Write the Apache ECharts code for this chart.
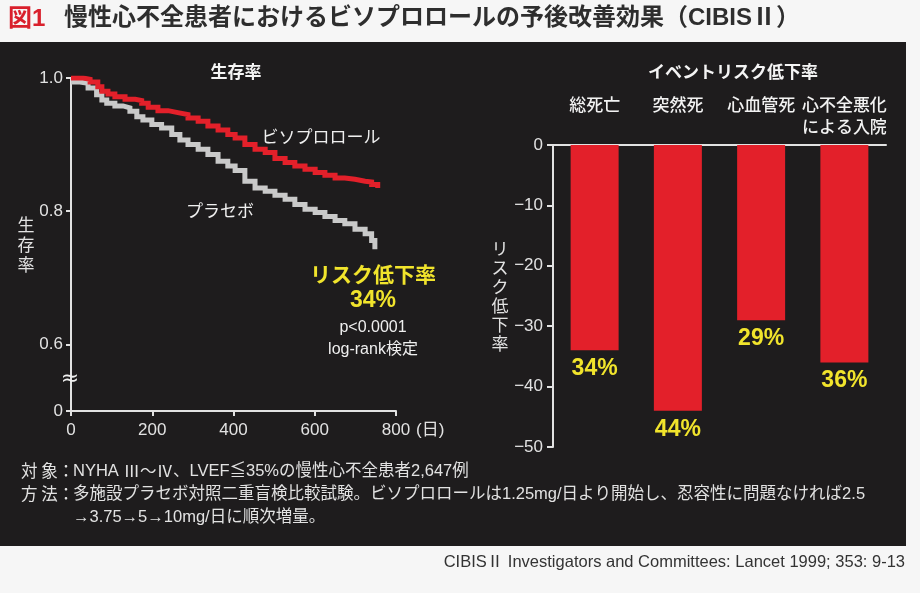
<!DOCTYPE html>
<html><head><meta charset="utf-8">
<script src="https://cdn.jsdelivr.net/npm/echarts@6/dist/echarts.min.js"></script>
<style>html,body{margin:0;padding:0;background:#f6f6f6}#c{width:920px;height:593px}</style>
</head><body><div id="c"></div>
<script>
// ---- data ----
const bisoDays = [0,22,30,47,66,76,91,108,133,158,174,190,214,239,263,288,313,337,362,386,404,428,453,478,502,527,551,576,601,625,650,674,699,724,740,755];
const bisoSurv = [1.0,1.0,0.998,0.994,0.987,0.980,0.976,0.972,0.968,0.966,0.962,0.956,0.951,0.948,0.945,0.940,0.935,0.928,0.922,0.915,0.910,0.900,0.893,0.888,0.879,0.873,0.868,0.863,0.858,0.854,0.850,0.848,0.845,0.844,0.840,0.835];
const placeboDays = [0,22,42,63,76,88,108,128,145,162,177,199,223,248,268,288,313,337,362,386,404,428,453,478,502,527,551,576,601,625,650,674,699,724,740,748];
const placeboSurv = [0.994,0.992,0.985,0.975,0.967,0.962,0.958,0.955,0.950,0.942,0.937,0.930,0.925,0.915,0.907,0.900,0.893,0.885,0.875,0.868,0.861,0.845,0.835,0.830,0.824,0.818,0.810,0.803,0.798,0.792,0.786,0.781,0.773,0.766,0.756,0.743];
const survTicks = [0.5,0.6,0.8,1.0];
const dayTicks = [0,200,400,600,800];
const eventCats = ['総死亡','突然死','心血管死','心不全悪化\nによる入院'];
const eventRiskChange = [-34,-44,-29,-36];
const riskTicks = [0,-10,-20,-30,-40,-50];

const JP = '"Liberation Sans","Noto Sans CJK JP",sans-serif';
const CJK = '"Noto Sans CJK JP",sans-serif';
const FG = '#e2e2e2';
const RED = '#e3202a';
const YEL = '#f1e42c';

const chart = echarts.init(document.getElementById('c'));
const zip = (a,b)=>a.map((v,i)=>[v,b[i]]);
const foot = {fill:FG, verticalAlign:'middle', font:'16.5px '+JP};

chart.setOption({
  backgroundColor:'#f6f6f6',
  animation:false,
  textStyle:{fontFamily:JP},
  grid:[
    {left:71, top:78, width:325, height:333},
    {left:553, top:145, right:34, bottom:146}
  ],
  xAxis:[
    {gridIndex:0, type:'value', min:0, max:800, interval:200,
     name:'(日)', nameLocation:'end', nameGap:16,
     nameTextStyle:{color:FG, fontSize:17, fontFamily:JP, verticalAlign:'top', align:'left', padding:[11,0,0,0]},
     axisLine:{lineStyle:{color:FG,width:2}},
     axisTick:{show:true,length:5,lineStyle:{color:FG,width:2}},
     axisLabel:{color:FG,fontSize:17,margin:11},
     splitLine:{show:false}},
    {gridIndex:1, type:'category', data:eventCats, position:'top',
     axisLine:{lineStyle:{color:FG,width:2}},
     axisTick:{show:false},
     axisLabel:{interval:0,color:'#f2f2f2',fontSize:17,margin:51,verticalAlign:'top',lineHeight:22,fontFamily:CJK,fontWeight:500}}
  ],
  yAxis:[
    {gridIndex:0, type:'value', min:0.5, max:1.0, interval:0.1,
     name:'生\n存\n率', nameLocation:'middle', nameRotate:0, nameGap:44,
     nameTextStyle:{color:FG,fontSize:17,lineHeight:20,align:'center',padding:[26,0,0,0],fontFamily:CJK},
     axisLine:{show:true,lineStyle:{color:FG,width:2}},
     axisTick:{show:true,length:5,customValues:survTicks,lineStyle:{color:FG,width:2}},
     axisLabel:{color:FG,fontSize:17,margin:8,customValues:survTicks,
       formatter:v=>Math.abs(v-0.5)<1e-6?'0':v.toFixed(1)},
     splitLine:{show:false}},
    {gridIndex:1, type:'value', min:-50, max:0, interval:10,
     name:'リ\nス\nク\n低\n下\n率', nameLocation:'middle', nameRotate:0, nameGap:53,
     nameTextStyle:{color:FG,fontSize:17,lineHeight:19,align:'center',fontFamily:CJK},
     axisLine:{show:true,lineStyle:{color:FG,width:2}},
     axisTick:{show:true,length:6,lineStyle:{color:FG,width:2}},
     axisLabel:{color:FG,fontSize:17,margin:10,formatter:v=>v<0?'−'+Math.abs(v):String(v)},
     splitLine:{show:false}}
  ],
  graphic:[
    {type:'rect', z:-100, shape:{x:0,y:42,width:906,height:504}, style:{fill:'#1e1c1d'}},
    {type:'text', left:8, top:7, style:{text:'図1', fill:'#d9202c', font:'bold 24px '+JP}},
    {type:'text', left:64, top:6, style:{text:'慢性心不全患者におけるビソプロロールの予後改善効果（CIBISⅡ）', fill:'#2e2e2e', font:'bold 24px '+JP}},
    {type:'text', x:236, y:72, style:{text:'生存率', fill:'#f4f4f4', align:'center', verticalAlign:'middle', font:'bold 17px '+CJK}},
    {type:'text', x:733, y:72, style:{text:'イベントリスク低下率', fill:'#f4f4f4', align:'center', verticalAlign:'middle', font:'bold 17px '+CJK}},
    {type:'text', x:321, y:137, style:{text:'ビソプロロール', fill:'#efefef', align:'center', verticalAlign:'middle', font:'17px '+CJK}},
    {type:'text', x:220, y:211, style:{text:'プラセボ', fill:'#efefef', align:'center', verticalAlign:'middle', font:'17px '+CJK}},
    {type:'text', x:373, y:274, style:{text:'リスク低下率', fill:YEL, align:'center', verticalAlign:'middle', font:'bold 21px '+CJK}},
    {type:'text', x:373, y:301, style:{text:'34%', fill:YEL, align:'center', verticalAlign:'middle', font:'bold 23px "Liberation Sans",sans-serif'}},
    {type:'text', x:373, y:328, style:{text:'p<0.0001', fill:'#efefef', align:'center', verticalAlign:'middle', font:'16px "Liberation Sans",sans-serif'}},
    {type:'text', x:373, y:350, style:{text:'log-rank検定', fill:'#efefef', align:'center', verticalAlign:'middle', font:'16px '+JP}},
    {type:'text', x:70, y:379, z:10, style:{text:'≈', fill:'#efefef', align:'center', verticalAlign:'middle', font:'22px "DejaVu Sans",sans-serif'}},
    {type:'text', x:21, y:471, style:{text:'対 象：', fill:FG, verticalAlign:'middle', font:'16.5px '+CJK}},
    {type:'text', x:73, y:471, style:Object.assign({}, foot, {
      text:'{a|NYHA }{j|Ⅲ〜Ⅳ}{a|、LVEF≦35%の慢性心不全患者2,647例}',
      rich:{a:{font:'16.5px '+JP,fill:FG},
            j:{font:'16.5px '+CJK,fill:FG}}})},
    {type:'text', x:21, y:494, style:{text:'方 法：', fill:FG, verticalAlign:'middle', font:'16.5px '+CJK}},
    {type:'text', x:73, y:494, style:Object.assign({}, foot, {text:'多施設プラセボ対照二重盲検比較試験。ビソプロロールは1.25mg/日より開始し、忍容性に問題なければ2.5'})},
    {type:'text', x:73, y:517, style:Object.assign({}, foot, {text:'→3.75→5→10mg/日に順次増量。'})},
    {type:'text', x:905, y:562, style:{text:'CIBISⅡ Investigators and Committees: Lancet 1999; 353: 9-13', fill:'#333', align:'right', verticalAlign:'middle', font:'16.5px '+JP}}
  ],
  series:[
    {type:'line', xAxisIndex:0, yAxisIndex:0, step:'end', symbol:'none', data:zip(placeboDays,placeboSurv),
     lineStyle:{color:'#c9c9c9',width:5,cap:'butt',join:'miter'}, z:3},
    {type:'line', xAxisIndex:0, yAxisIndex:0, step:'end', symbol:'none', data:zip(bisoDays,bisoSurv),
     lineStyle:{color:RED,width:5,cap:'butt',join:'miter'}, z:4},
    {type:'bar', xAxisIndex:1, yAxisIndex:1, data:eventRiskChange, barWidth:48,
     itemStyle:{color:RED},
     label:{show:true,position:'bottom',distance:7,color:YEL,fontSize:23,fontWeight:'bold',fontFamily:'"Liberation Sans",sans-serif',
       formatter:p=>Math.abs(p.value)+'%'}}
  ]
});
</script></body></html>
